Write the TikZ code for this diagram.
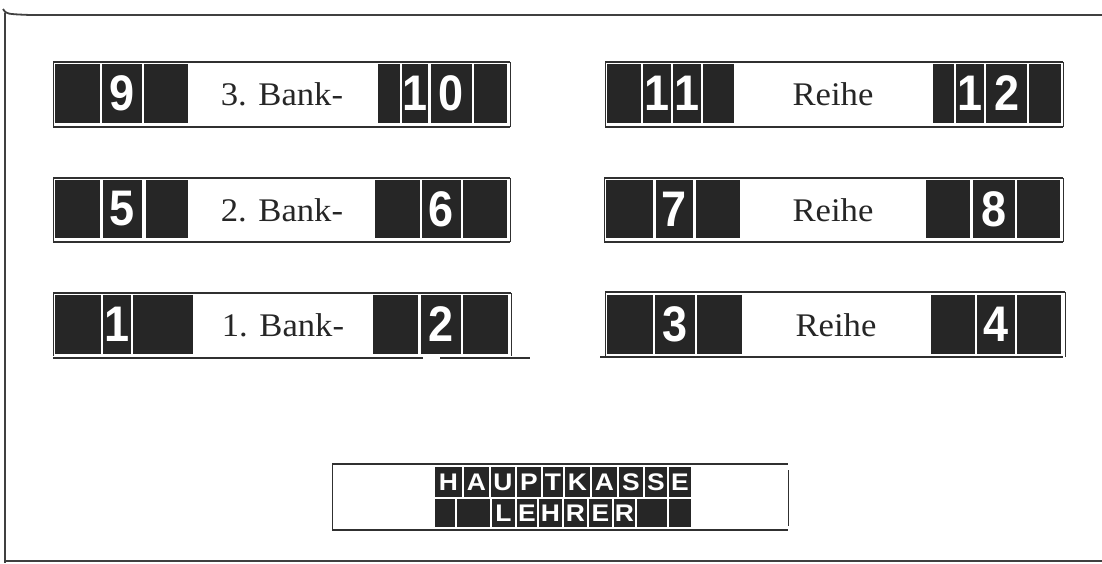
\documentclass[tikz,border=0pt]{standalone}
\usepackage{fontspec}
\setmainfont{Liberation Serif}
\newfontfamily\digfont{Liberation Sans}
\definecolor{ink}{HTML}{262626}
\definecolor{line}{HTML}{303030}
\newcommand\cel[6]{\node[cellbox, minimum width={#3-#2}, minimum height={#5-#4}] (#1) at ({(#2+#3)/2},{(#4+#5)/2}) {\scalebox{0.9}[1]{#6}};}
\newcommand\lcel[6]{\node[lettbox, minimum width={#3-#2}, minimum height={#5-#4}] (#1) at ({(#2+#3)/2},{(#4+#5)/2}) {\scalebox{1.1}[1]{#6}};}
\tikzset{
  cellbox/.style={draw=none, fill=ink, inner sep=0pt, text=white, font=\digfont\bfseries\fontsize{50}{50}\selectfont},
  lettbox/.style={draw=none, fill=ink, inner sep=0pt, text=white, font=\digfont\bfseries\fontsize{24}{24}\selectfont},
  labtext/.style={inner sep=0pt, text=black!85, font=\fontsize{33}{33}\selectfont},
  hline/.style={draw=line, line width=1.7pt},
  vline/.style={draw=line, line width=1pt},
  outer/.style={draw=black!75, line width=1.8pt}
}
\newcommand\lab[1]{\scalebox{1.05}[1]{#1}}
\begin{document}
\begin{tikzpicture}[x=1pt,y=-1pt]
\useasboundingbox (0,0) rectangle (1102,563);
% outer frame
\draw[outer] (3,9) .. controls (6,14) .. (30,15) -- (1102,15);
\draw[outer, line width=1.2pt] (5,13) -- (5,563);
\draw[outer] (5,561) -- (1102,561);

% ---------- Row 1 left ----------
\draw[hline] (53,62) -- (510,62); \draw[hline] (53,127) -- (510,127);
\draw[vline] (53,62) -- (53,127); \draw[vline] (510,62) -- (510,127);
\cel{a1}{55}{100}{64}{123}{}
\cel{a2}{102}{142}{64}{123}{9}
\cel{a3}{144}{188}{64}{123}{}
\node[labtext] (a4) at (282,94) {\lab{3. Bank-}};
\cel{a5}{378}{400}{64}{123}{}
\cel{a6}{402}{428}{64}{123}{1}
\cel{a7}{431}{472}{64}{123}{0}
\cel{a8}{474}{507}{64}{123}{}
% ---------- Row 1 right ----------
\draw[hline] (605,62) -- (1063,62); \draw[hline] (605,127) -- (1063,127);
\draw[vline] (605,62) -- (605,127); \draw[vline] (1063,62) -- (1063,127);
\cel{b1}{607}{641}{64}{123}{}
\cel{b2}{643}{671}{64}{123}{1}
\cel{b3}{673}{701}{64}{123}{1}
\cel{b4}{703}{734}{64}{123}{}
\node[labtext] (b5) at (833,94) {\lab{Reihe}};
\cel{b6}{933}{954}{64}{123}{}
\cel{b7}{956}{984}{64}{123}{1}
\cel{b8}{986}{1027}{64}{123}{2}
\cel{b9}{1029}{1061}{64}{123}{}

% ---------- Row 2 left ----------
\draw[hline] (53,178) -- (510,178); \draw[hline] (53,242) -- (510,242);
\draw[vline] (53,178) -- (53,242); \draw[vline] (510,178) -- (510,242);
\cel{c1}{55}{100}{180}{238}{}
\cel{c2}{103}{142}{180}{238}{5}
\cel{c3}{146}{188}{180}{238}{}
\node[labtext] (c4) at (282,210) {\lab{2. Bank-}};
\cel{c5}{375}{420}{180}{238}{}
\cel{c6}{422}{461}{180}{238}{6}
\cel{c7}{463}{507}{180}{238}{}
% ---------- Row 2 right ----------
\draw[hline] (604,178) -- (1063,178); \draw[hline] (604,242) -- (1063,242);
\draw[vline] (604,178) -- (604,242); \draw[vline] (1063,178) -- (1063,242);
\cel{d1}{606}{653}{180}{238}{}
\cel{d2}{656}{693}{180}{238}{7}
\cel{d3}{696}{740}{180}{238}{}
\node[labtext] (d4) at (833,210) {\lab{Reihe}};
\cel{d5}{926}{970}{180}{238}{}
\cel{d6}{973}{1015}{180}{238}{8}
\cel{d7}{1017}{1060}{180}{238}{}

% ---------- Row 3 left ----------
\draw[hline] (53,293) -- (511,293);
\draw[hline] (53,358) -- (423,358); \draw[hline] (440,358) -- (530,358);
\draw[vline] (53,293) -- (53,356); \draw[vline] (511,293) -- (511,356);
\cel{e1}{55}{101}{295}{354}{}
\cel{e2}{103}{131}{295}{354}{1}
\cel{e3}{133}{193}{295}{354}{}
\node[labtext] (e4) at (283,325) {\lab{1. Bank-}};
\cel{e5}{373}{418}{295}{354}{}
\cel{e6}{421}{461}{295}{354}{2}
\cel{e7}{463}{508}{295}{354}{}
% ---------- Row 3 right ----------
\draw[hline] (605,292) -- (1065,292); \draw[hline] (600,357) -- (1063,357);
\draw[vline] (605,292) -- (605,357); \draw[vline] (1065,292) -- (1065,357);
\cel{f1}{607}{653}{295}{354}{}
\cel{f2}{655}{695}{295}{354}{3}
\cel{f3}{697}{742}{295}{354}{}
\node[labtext] (f4) at (836,325) {\lab{Reihe}};
\cel{f5}{931}{975}{295}{354}{}
\cel{f6}{977}{1015}{295}{354}{4}
\cel{f7}{1017}{1061}{295}{354}{}

% ---------- Hauptkasse / Lehrer ----------
\draw[hline, line width=1.3pt] (332,464) -- (788,464); \draw[hline, line width=1.5pt] (332,530) -- (788,530);
\draw[vline] (332,464) -- (332,530); \draw[vline] (788,470) -- (788,526);
\lcel{h1}{435}{462}{467}{497}{H}
\lcel{h2}{464}{489}{467}{497}{A}
\lcel{h3}{491}{515}{467}{497}{U}
\lcel{h4}{517}{541}{467}{497}{P}
\lcel{h5}{543}{563}{467}{497}{T}
\lcel{h6}{565}{590}{467}{497}{K}
\lcel{h7}{592}{617}{467}{497}{A}
\lcel{h8}{619}{643}{467}{497}{S}
\lcel{h9}{645}{667}{467}{497}{S}
\lcel{h10}{669}{691}{467}{497}{E}
\lcel{l1}{435}{455}{499}{527}{}
\lcel{l2}{457}{490}{499}{527}{}
\lcel{l3}{492}{515}{499}{527}{L}
\lcel{l4}{517}{537}{499}{527}{E}
\lcel{l5}{539}{562}{499}{527}{H}
\lcel{l6}{564}{587}{499}{527}{R}
\lcel{l7}{589}{612}{499}{527}{E}
\lcel{l8}{614}{635}{499}{527}{R}
\lcel{l9}{637}{667}{499}{527}{}
\lcel{l10}{669}{691}{499}{527}{}
\end{tikzpicture}
\end{document}
